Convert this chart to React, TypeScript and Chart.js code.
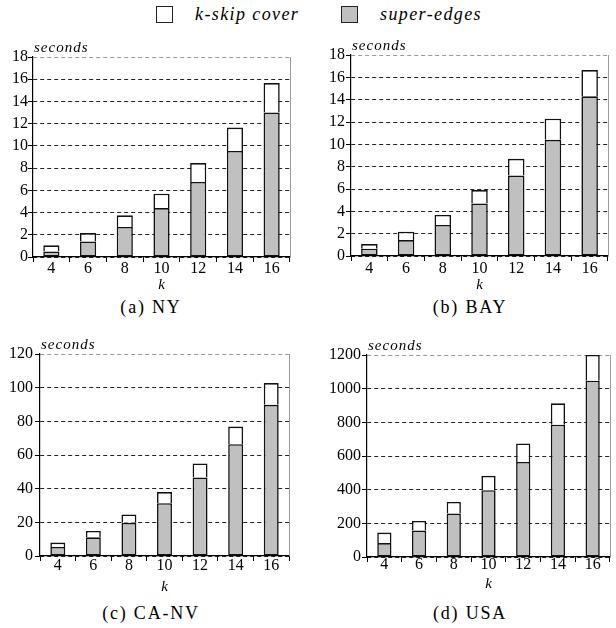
import React, { useEffect, useRef } from "react";
import { Chart, registerables } from "chart.js";

Chart.register(...registerables);

const kLabels = ["4", "6", "8", "10", "12", "14", "16"];

const nySuper = [0.5, 1.4, 2.7, 4.4, 6.75, 9.55, 13.0];
const nyCover = [0.55, 0.75, 1.05, 1.3, 1.7, 2.1, 2.65];

const baySuper = [0.65, 1.43, 2.78, 4.7, 7.2, 10.4, 14.3];
const bayCover = [0.42, 0.75, 0.89, 1.2, 1.5, 1.9, 2.35];

const canvSuper = [5.4, 11.1, 19.7, 31.4, 46.7, 66.4, 89.8];
const canvCover = [2.6, 3.8, 5.0, 6.6, 8.3, 10.5, 12.9];

const usaSuper = [83, 157, 258, 397, 565, 786, 1047];
const usaCover = [62, 57, 69, 85, 110, 127, 153];

const seriesNames = ["k-skip cover", "super-edges"];
const captions = ["(a) NY", "(b) BAY", "(c) CA-NV", "(d) USA"];

const FONT = '"Liberation Serif", "Times New Roman", serif';

const framePlugin = {
  id: "frame",
  afterDraw(chart: any, _args: any, opts: any) {
    const { ctx, chartArea } = chart;
    ctx.save();
    ctx.strokeStyle = "#9a9a9a";
    ctx.lineWidth = 1;
    ctx.beginPath();
    ctx.moveTo(chartArea.right + 0.5, chartArea.top);
    ctx.lineTo(chartArea.right + 0.5, chartArea.bottom);
    ctx.stroke();
    ctx.font = `italic 15px ${FONT}`;
    ctx.fillStyle = "#000";
    ctx.textBaseline = "alphabetic";
    ctx.textAlign = "left";
    try {
      (ctx as any).letterSpacing = "1px";
    } catch (e) {}
    ctx.fillText(opts.text || "seconds", chartArea.left + 1, chartArea.top - 5);
    ctx.restore();
  },
};

type PanelProps = {
  superData: number[];
  coverData: number[];
  yMax: number;
  yStep: number;
  left: number;
  top: number;
  width: number;
  height: number;
  yWidth: number;
  xHeight: number;
  padTop: number;
  padRight: number;
  barPct: number;
  yPad: number;
  xPad: number;
  kPad: number;
};

function Panel(p: PanelProps) {
  const ref = useRef<HTMLCanvasElement | null>(null);
  useEffect(() => {
    if (!ref.current) return;
    const chart = new Chart(ref.current, {
      type: "bar",
      data: {
        labels: kLabels,
        datasets: [
          {
            label: seriesNames[1],
            data: p.superData,
            backgroundColor: "#c0c0c0",
            borderColor: "#111111",
            borderWidth: 1.6,
            borderSkipped: false,
            barPercentage: p.barPct,
            categoryPercentage: 1,
          },
          {
            label: seriesNames[0],
            data: p.coverData,
            backgroundColor: "#ffffff",
            borderColor: "#111111",
            borderWidth: 1.6,
            borderSkipped: "bottom",
            barPercentage: p.barPct,
            categoryPercentage: 1,
          },
        ],
      },
      options: {
        animation: false,
        responsive: false,
        layout: { padding: { top: p.padTop, right: p.padRight, left: 0, bottom: 0 } },
        plugins: {
          legend: { display: false },
          tooltip: { enabled: false },
          frame: { text: "seconds" },
        } as any,
        scales: {
          x: {
            stacked: true,
            offset: true,
            afterFit: (s: any) => {
              s.height = p.xHeight;
            },
            grid: {
              display: true,
              drawOnChartArea: false,
              drawTicks: true,
              tickLength: 5,
              offset: true,
              color: "#000",
              tickColor: "#000",
            },
            border: { display: true, color: "#000", width: 1.2 },
            ticks: {
              color: "#000",
              padding: p.xPad,
              font: { family: FONT, size: 16, lineHeight: 1 },
              maxRotation: 0,
            },
            title: {
              display: true,
              text: "k",
              color: "#000",
              font: { family: FONT, size: 15, style: "italic", lineHeight: 1 },
              padding: { top: 0, bottom: p.kPad },
            },
          },
          y: {
            stacked: true,
            min: 0,
            max: p.yMax,
            afterFit: (s: any) => {
              s.width = p.yWidth;
            },
            grid: {
              color: (c: any) => (c.tick && c.tick.value === p.yMax ? "#999999" : "#222222"),
              tickColor: "#000",
              tickLength: 5,
              lineWidth: 1,
            },
            border: { display: true, color: "#000", width: 1.2, dash: [4, 3] },
            ticks: {
              stepSize: p.yStep,
              color: "#000",
              padding: p.yPad,
              font: { family: FONT, size: 16, lineHeight: 1 },
              callback: (v: any) => String(v),
            },
          },
        },
      },
      plugins: [framePlugin as any],
    });
    return () => chart.destroy();
  }, []);
  return (
    <canvas
      ref={ref}
      width={p.width}
      height={p.height}
      style={{ position: "absolute", left: p.left, top: p.top, width: p.width, height: p.height }}
    />
  );
}

const legendText: React.CSSProperties = {
  position: "absolute",
  fontFamily: FONT,
  fontStyle: "italic",
  fontSize: 18,
  letterSpacing: "1.4px",
  lineHeight: "18px",
  color: "#000",
  whiteSpace: "nowrap",
};

const captionStyle: React.CSSProperties = {
  position: "absolute",
  fontFamily: FONT,
  fontSize: 18,
  letterSpacing: "1.8px",
  lineHeight: "20px",
  color: "#000",
  width: 200,
  textAlign: "center",
  whiteSpace: "nowrap",
};

export default function App() {
  return (
    <div
      style={{
        position: "fixed",
        left: 0,
        top: 0,
        width: 616,
        height: 628,
        background: "#fff",
        overflow: "hidden",
      }}
    >
      <div
        style={{
          position: "absolute",
          left: 156,
          top: 6,
          width: 15,
          height: 15,
          border: "1.2px solid #222",
          background: "#fff",
        }}
      />
      <div style={{ ...legendText, left: 195, top: 5 }}>{seriesNames[0]}</div>
      <div
        style={{
          position: "absolute",
          left: 341,
          top: 6,
          width: 15,
          height: 15,
          border: "1.2px solid #222",
          background: "#c0c0c0",
        }}
      />
      <div style={{ ...legendText, left: 380, top: 5 }}>{seriesNames[1]}</div>

      <Panel
        superData={nySuper}
        coverData={nyCover}
        yMax={18}
        yStep={2}
        left={0}
        top={30}
        width={308}
        height={265}
        yWidth={33}
        xHeight={38}
        padTop={27}
        padRight={18}
        barPct={0.44}
        yPad={0}
        xPad={-1}
        kPad={2.5}
      />
      <Panel
        superData={baySuper}
        coverData={bayCover}
        yMax={18}
        yStep={2}
        left={308}
        top={30}
        width={308}
        height={265}
        yWidth={43}
        xHeight={39}
        padTop={25}
        padRight={8}
        barPct={0.45}
        yPad={1}
        xPad={-0.5}
        kPad={2.5}
      />
      <Panel
        superData={canvSuper}
        coverData={canvCover}
        yMax={120}
        yStep={20}
        left={0}
        top={325}
        width={308}
        height={275}
        yWidth={40}
        xHeight={44}
        padTop={29}
        padRight={19}
        barPct={0.42}
        yPad={2}
        xPad={-3}
        kPad={5.5}
      />
      <Panel
        superData={usaSuper}
        coverData={usaCover}
        yMax={1200}
        yStep={200}
        left={308}
        top={325}
        width={308}
        height={275}
        yWidth={59}
        xHeight={43}
        padTop={30}
        padRight={6}
        barPct={0.41}
        yPad={1}
        xPad={-5}
        kPad={8.5}
      />

      <div style={{ ...captionStyle, left: 51, top: 297 }}>{captions[0]}</div>
      <div style={{ ...captionStyle, left: 370, top: 297 }}>{captions[1]}</div>
      <div style={{ ...captionStyle, left: 51, top: 603 }}>{captions[2]}</div>
      <div style={{ ...captionStyle, left: 370, top: 603 }}>{captions[3]}</div>
    </div>
  );
}
